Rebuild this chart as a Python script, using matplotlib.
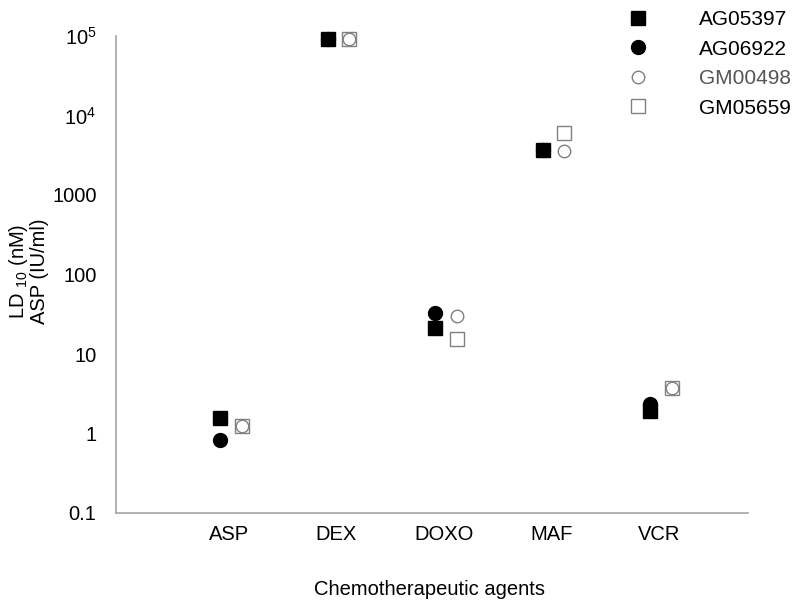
import matplotlib
matplotlib.use("Agg")
import matplotlib.pyplot as plt
from matplotlib.lines import Line2D

plt.rcParams['font.family'] = ['Liberation Sans', 'DejaVu Sans']
plt.rcParams['mathtext.fontset'] = 'custom'
plt.rcParams['mathtext.rm'] = 'Liberation Sans'
plt.rcParams['mathtext.it'] = 'Liberation Sans:italic'
plt.rcParams['mathtext.bf'] = 'Liberation Sans:bold'

agents = ["ASP", "DEX", "DOXO", "MAF", "VCR"]
AG05397 = [1.55, 93000, 21, 3700, 1.9]
AG06922 = [0.82, 93000, 33, 3700, 2.35]
GM00498 = [1.25, 93000, 30, 3600, 3.7]
GM05659 = [1.25, 93000, 15.5, 6000, 3.7]
series_names = ["AG05397", "AG06922", "GM00498", "GM05659"]
yticks = [0.1, 1, 10, 100, 1000, 1e4, 1e5]
ytick_labels = ["0.1", "1", "10", "100", "1000", r"10$^\mathregular{4}$", r"10$^\mathregular{5}$"]

fig = plt.figure(figsize=(8, 6), dpi=100)
ax = fig.add_axes([116/800, 1-513/600, (748-116)/800, (513-36)/600])

pos = list(range(1, len(agents)+1))
grey = "#808080"
ax.plot([p-0.08 for p in pos], AG06922, 'o', ms=10, color='black', ls='none', zorder=3, clip_on=False)
ax.plot([p-0.08 for p in pos], AG05397, 's', ms=10, color='black', ls='none', zorder=4, clip_on=False)
ax.plot([p+0.12 for p in pos], GM05659, 's', ms=10, mfc='white', mec=grey, mew=1.0, ls='none', zorder=3, clip_on=False)
ax.plot([p+0.12 for p in pos], GM00498, 'o', ms=9, mfc='white', mec=grey, mew=1.0, ls='none', zorder=4, clip_on=False)

ax.set_yscale('log')
ax.set_ylim(0.1, 1e5)
ax.set_xlim(-0.05, 5.83)
ax.set_xticks(pos)
ax.set_xticklabels(agents)
ax.set_yticks(yticks)
ax.set_yticklabels(ytick_labels)
ax.minorticks_off()
ax.tick_params(axis='both', length=0, labelsize=14.5, pad=14)
ax.tick_params(axis='x', pad=9)
for s in ['top', 'right']:
    ax.spines[s].set_visible(False)
for s in ['left', 'bottom']:
    ax.spines[s].set_color('#a6a6a6')
    ax.spines[s].set_linewidth(1.2)

ax.set_xlabel("Chemotherapeutic agents", fontsize=14.5)
ax.xaxis.set_label_coords((430-116)/632, -(580-513)/477)
ax.set_ylabel("LD $_\\mathregular{10}$ (nM)\nASP (IU/ml)", fontsize=14.5, linespacing=1.0)
ax.yaxis.set_label_coords(-(116-49)/632, (513-271)/477)

handles = [
    Line2D([], [], marker='s', ms=10, color='black', ls='none'),
    Line2D([], [], marker='o', ms=10, color='black', ls='none'),
    Line2D([], [], marker='o', ms=9, mfc='white', mec=grey, ls='none'),
    Line2D([], [], marker='s', ms=10, mfc='white', mec=grey, ls='none'),
]
leg = fig.legend(handles, series_names, loc='upper left', bbox_to_anchor=(609/800, 1.014),
                 frameon=False, fontsize=15, handletextpad=2.4, labelspacing=0.5,
                 handlelength=1.0)
leg.get_texts()[2].set_color('#555555')

fig.savefig("out.png", dpi=100)
